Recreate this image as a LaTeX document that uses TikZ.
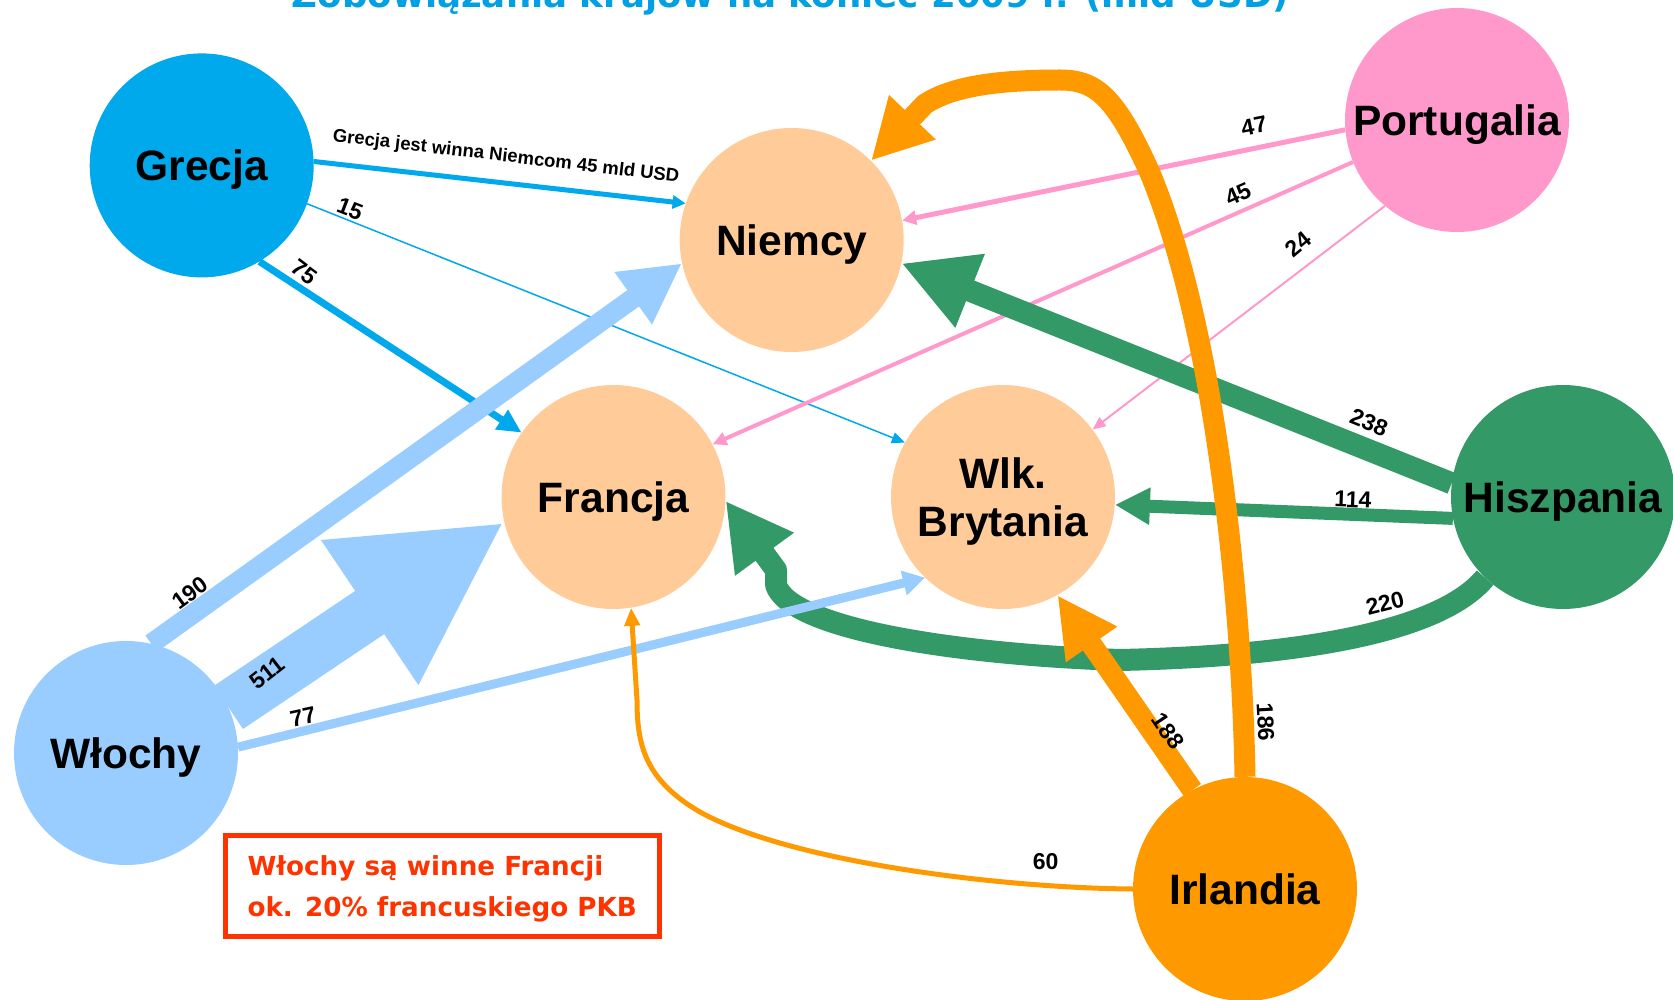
\documentclass[tikz,border=0pt]{standalone}
\usepackage{fontspec}
\setmainfont{Liberation Sans}
\newfontfamily\tahfont{DejaVu Sans}
\usetikzlibrary{arrows.meta,backgrounds}
\definecolor{cgre}{RGB}{0,168,236}
\definecolor{cpeach}{RGB}{255,204,153}
\definecolor{cpink}{RGB}{255,153,204}
\definecolor{cgreen}{RGB}{51,153,102}
\definecolor{cblue}{RGB}{153,204,255}
\definecolor{corange}{RGB}{255,153,0}
\definecolor{cred}{RGB}{255,51,0}
\definecolor{ctitle}{RGB}{0,160,226}
\tikzset{
  country/.style={circle, minimum size=224pt, inner sep=0pt, align=center,
    text height=31pt, text depth=0pt,
    font=\fontsize{42.5}{48}\selectfont\bfseries},
  num/.style={font=\fontsize{23}{25}\selectfont\bfseries, inner sep=0pt},
  conn/.style={line join=round},
}
\begin{document}
\begin{tikzpicture}[x=1pt,y=-1pt]
\useasboundingbox (0,0) rectangle (1673,1000);

% countries
\node[country, fill=cgre]    (gr) at (201.7,165.4) {Grecja};
\node[country, fill=cpeach]  (de) at (791.7,240) {Niemcy};
\node[country, fill=cpink]   (pt) at (1457,120) {Portugalia};
\node[country, fill=cpeach]  (fr) at (613.5,497) {Francja};
\node[country, fill=cpeach, text height=79pt] (uk) at (1003,497) {Wlk.\\Brytania};
\node[country, fill=cgreen]  (es) at (1563,497) {Hiszpania};
\node[country, fill=cblue]   (it) at (126,753) {Włochy};
\node[country, fill=corange] (ie) at (1245,889) {Irlandia};

\begin{scope}[on background layer]
\fill[white] (0,0) rectangle (1673,1000);
% Grecja
\draw[conn, cgre, line width=5pt, -{Triangle[length=13pt,width=13pt]}] (gr.2.8) -- (de.161.1);
\draw[conn, cgre, line width=1.5pt, -{Triangle[length=13pt,width=11pt]}] (gr.-20.8) -- (uk.151.6);
\draw[conn, cgre, line width=7pt, -{Triangle[length=24pt,width=22pt]}] (gr.-59.9) -- (fr.145.5);
% Portugalia
\draw[conn, cpink, line width=5pt, -{Triangle[length=14pt,width=14pt]}] (pt.185.1) -- (de.10.9);
\draw[conn, cpink, line width=4pt, -{Triangle[length=14pt,width=13pt]}] (pt.202) -- (fr.28.6);
\draw[conn, cpink, line width=2pt, -{Triangle[length=13pt,width=11pt]}] (pt.230.7) -- (uk.37.9);
% Hiszpania
\draw[conn, cgreen, line width=22pt, -{Triangle[length=74pt,width=74pt]}] (es.173.7) -- (de.348.3);
\draw[conn, cgreen, line width=13pt, -{Triangle[length=35pt,width=35pt]}] (es.191.9) -- (uk.356.1);
\draw[conn, cgreen, line width=22pt, -{Triangle[length=66pt,width=68pt]}]
  (es.226) .. controls (1440,632) and (1300,656) .. (1120,660)
  .. controls (950,654) and (790,628) .. (776,585) -- (776,570) -- (fr.358);
% Wlochy
\draw[conn, cblue, line width=20pt, -{Triangle[length=60pt,width=60pt]}] (it.77.6) -- (de.192.4);
\draw[conn, cblue, line width=52pt, -{Triangle[length=162pt,width=162pt]}] (it.24.4) -- (fr.193.3);
\draw[conn, cblue, line width=9pt, -{Triangle[length=22pt,width=24pt]}] (it.3) -- (uk.226.8);
% Irlandia
\draw[conn, corange, line width=21pt, -{Triangle[length=60pt,width=60pt]}]
  (ie.90) .. controls (1242,600) and (1215,330) .. (1150,173)
  .. controls (1115,95) and (1095,80) .. (1060,80)
  .. controls (990,80) and (950,88) .. (925,104) -- (de.45.7);
\draw[conn, corange, line width=21pt, -{Triangle[length=60pt,width=58pt]}] (ie.118.9) -- (uk.299.1);
\draw[conn, corange, line width=5pt, -{Triangle[length=18pt,width=15pt]}]
  (ie.180) .. controls (1000,888) and (790,862) .. (700,812)
  .. controls (645,780) and (637,745) .. (637,700) -- (fr.279.3);
\end{scope}

% labels
\node[font=\fontsize{18.5}{20}\selectfont\bfseries, rotate=-6.7] (lgn) at (506,157) {Grecja jest winna Niemcom 45 mld USD};
\node[num, rotate=-21] (l15) at (350,209) {15};
\node[num, rotate=-37] (l75) at (304,272) {75};
\node[num, rotate=36] (l190) at (190,593) {190};
\node[num, rotate=38] (l511) at (267,673) {511};
\node[num, rotate=12] (l77) at (303,717) {77};
\node[num, rotate=11] (l47) at (1254,126) {47};
\node[num, rotate=24] (l45) at (1238,194) {45};
\node[num, rotate=40] (l24) at (1298.5,244) {24};
\node[num, rotate=-22] (l238) at (1369,422.5) {238};
\node[num, rotate=-2] (l114) at (1353,499.5) {114};
\node[num, rotate=14] (l220) at (1385,603) {220};
\node[num, rotate=-56] (l188) at (1168,731) {188};
\node[num, rotate=-87] (l186) at (1265.5,722) {186};
\node[num] (l60) at (1045.6,862) {60};

% note box
\node[draw=cred, line width=5pt, minimum width=434pt, minimum height=101pt,
  align=left, text=cred, text height=60pt, text depth=0pt,
  font=\tahfont\bfseries\fontsize{26.2}{41}\selectfont] (note) at (442.2,886)
  {Włochy są winne Francji\\ok. 20\% francuskiego PKB};

% title (cut at top)
\node[anchor=base, text=ctitle, inner sep=0pt,
  font=\tahfont\bfseries\fontsize{35.6}{40}\selectfont] (title) at (790.5,8)
  {Zobowiązania krajów na koniec 2009 r. (mld USD)};
\end{tikzpicture}
\end{document}
